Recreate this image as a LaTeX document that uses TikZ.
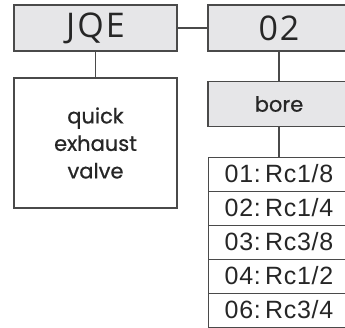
\documentclass[tikz,border=0pt]{standalone}
\usepackage{fontspec}
\setmainfont{Liberation Sans}
\newfontfamily\headfont[LetterSpace=6]{Open Sans}
\newfontfamily\labfont[FakeBold=0.7]{Poppins}
\newfontfamily\listfont[LetterSpace=3]{Liberation Sans}
\definecolor{boxfill}{HTML}{E6E6E8}
\definecolor{linecol}{HTML}{4A4A4A}
\definecolor{txtcol}{HTML}{262626}
\begin{document}
\begin{tikzpicture}[x=1pt,y=-1pt,
  every node/.style={text=txtcol},
  headbox/.style={draw=linecol,line width=1.4pt,fill=boxfill,minimum height=46pt,inner sep=0pt,font=\headfont\fontsize{34}{36}\selectfont},
  descbox/.style={draw=linecol,line width=1.4pt,fill=white,minimum width=163pt,minimum height=130pt,inner sep=0pt,align=center,font=\labfont\fontsize{21}{27.5}\selectfont},
  borebox/.style={draw=linecol,line width=1.4pt,fill=boxfill,minimum width=142pt,minimum height=45pt,inner sep=0pt,font=\labfont\fontsize{21}{24}\selectfont},
  rowbox/.style={draw=linecol,line width=1pt,fill=white,minimum width=142pt,minimum height=34pt,inner sep=0pt,font=\listfont\fontsize{25}{28}\selectfont},
  conn/.style={draw=linecol,line width=1.4pt}]
\useasboundingbox (0,0) rectangle (345,327);
\clip (0,0) rectangle (345,327);
\node[headbox,minimum width=163pt] (jqe) at (95.5,28) {JQE};
\node[headbox,minimum width=142pt] (code) at (279,28) {02};
\node[descbox] (desc) at (95.5,143) {quick\\exhaust\\valve};
\node[borebox] (bore) at (279,104) {bore};
\node[rowbox] (r1) at (279,174) {01:\,Rc1/8};
\node[rowbox] (r2) at (279,208) {02:\,Rc1/4};
\node[rowbox] (r3) at (279,242) {03:\,Rc3/8};
\node[rowbox] (r4) at (279,276) {04:\,Rc1/2};
\node[rowbox] (r5) at (279,310) {06:\,Rc3/4};
\draw[conn] (jqe.east) -- (code.west);
\draw[conn] (jqe.south) -- (desc.north);
\draw[conn] (code.south) -- (bore.north);
\draw[conn] (bore.south) -- (r1.north);
\end{tikzpicture}
\end{document}
